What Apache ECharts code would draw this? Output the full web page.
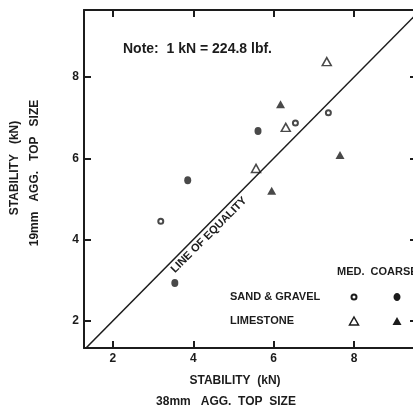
<!DOCTYPE html>
<html>
<head>
<meta charset="utf-8">
<script src="https://cdn.jsdelivr.net/npm/echarts@6/dist/echarts.min.js"></script>
<style>
html,body{margin:0;padding:0;background:#fff;}
#chart{width:413px;height:408px;}
</style>
</head>
<body>
<div id="chart"></div>
<script>
// tick values shared by both axes
var tickValues = [2, 4, 6, 8];

// [38mm stability, 19mm stability] in kN
var sandMedium = [[7.36, 7.12], [6.54, 6.87], [3.19, 4.45]];
var sandCoarse = [[5.61, 6.67], [3.86, 5.46], [3.54, 2.93]];
var limeMedium = [[7.32, 8.38], [6.30, 6.76], [5.56, 5.75]];
var limeCoarse = [[6.17, 7.33], [7.65, 6.08], [5.95, 5.20]];
var equality = [[1.2, 1.2], [10, 10]];

var ink = '#1c1c1c';
var font = 'Liberation Sans';

var myChart = echarts.init(document.getElementById('chart'));

function frameAxis(pos, showLabel) {
	var horiz = pos == 'bottom' || pos == 'top';
	return {
		type: 'value',
		position: pos,
		min: horiz ? 1.28 : 1.33,
		max: horiz ? 9.64 : 9.65,
		splitLine: {show: false},
		axisLine: {show: true, onZero: false, lineStyle: {color: ink, width: 2}},
		axisTick: {show: true, inside: true, length: pos == 'right' ? 10 : 7, customValues: tickValues, lineStyle: {color: ink, width: 2}},
		axisLabel: {
			show: showLabel, customValues: tickValues, margin: 5,
			color: ink, fontFamily: font, fontWeight: 'bold', fontSize: 12
		}
	};
}

var option = {
	backgroundColor: '#fff',
	animation: false,
	// the frame runs past the right edge of the picture
	grid: {left: 84, top: 10, width: 336, height: 338, outerBoundsMode: 'none', containLabel: false},
	xAxis: [frameAxis('bottom', true), frameAxis('top', false)],
	yAxis: [frameAxis('left', true), frameAxis('right', false)],
	series: [
		{
			type: 'line', data: equality, symbol: 'none', clip: true,
			lineStyle: {color: ink, width: 1.5}, silent: true
		},
		{
			name: 'SAND & GRAVEL MED.', type: 'scatter', data: sandMedium,
			symbol: 'circle', symbolSize: 5,
			itemStyle: {color: '#fff', borderColor: ink, borderWidth: 2}
		},
		{
			name: 'SAND & GRAVEL COARSE', type: 'scatter', data: sandCoarse,
			symbol: 'circle', symbolSize: [7, 8],
			itemStyle: {color: ink}
		},
		{
			name: 'LIMESTONE MED.', type: 'scatter', data: limeMedium,
			symbol: 'triangle', symbolSize: [9, 8],
			itemStyle: {color: '#fff', borderColor: ink, borderWidth: 1.5}
		},
		{
			name: 'LIMESTONE COARSE', type: 'scatter', data: limeCoarse,
			symbol: 'triangle', symbolSize: [9, 8],
			itemStyle: {color: ink}
		}
	],
	graphic: [
		{type: 'text', left: 123, top: 42, style: {text: 'Note:  1 kN = 224.8 lbf.', fill: ink, font: 'bold 14px ' + font}},
		{type: 'text', x: 209, y: 235, rotation: Math.PI / 4,
			style: {text: 'LINE OF EQUALITY', fill: ink, font: 'bold 11px ' + font, align: 'center', verticalAlign: 'middle'}},
		// legend table
		{type: 'text', left: 337, top: 266, style: {text: 'MED.  COARSE', fill: ink, font: 'bold 11px ' + font}},
		{type: 'text', left: 230, top: 291, style: {text: 'SAND & GRAVEL', fill: ink, font: 'bold 11px ' + font}},
		{type: 'text', left: 230, top: 315, style: {text: 'LIMESTONE', fill: ink, font: 'bold 11px ' + font}},
		{type: 'circle', shape: {cx: 354, cy: 297, r: 2.5}, style: {fill: '#fff', stroke: ink, lineWidth: 2}},
		{type: 'ellipse', shape: {cx: 397, cy: 297, rx: 3.5, ry: 4}, style: {fill: ink}},
		{type: 'polygon', shape: {points: [[354, 317], [358.5, 325], [349.5, 325]]}, style: {fill: '#fff', stroke: ink, lineWidth: 1.5}},
		{type: 'polygon', shape: {points: [[397, 317], [401.5, 325], [392.5, 325]]}, style: {fill: ink}},
		// axis titles
		{type: 'text', x: 235, y: 381, style: {text: 'STABILITY  (kN)', fill: ink, font: 'bold 12px ' + font, align: 'center', verticalAlign: 'middle'}},
		{type: 'text', x: 226, y: 402, style: {text: '38mm   AGG.  TOP  SIZE', fill: ink, font: 'bold 12px ' + font, align: 'center', verticalAlign: 'middle'}},
		{type: 'text', x: 15, y: 168, rotation: Math.PI / 2, style: {text: 'STABILITY   (kN)', fill: ink, font: 'bold 12px ' + font, align: 'center', verticalAlign: 'middle'}},
		{type: 'text', x: 35, y: 173, rotation: Math.PI / 2, style: {text: '19mm   AGG.   TOP   SIZE', fill: ink, font: 'bold 12px ' + font, align: 'center', verticalAlign: 'middle'}}
	]
};

myChart.setOption(option);
</script>
</body>
</html>
